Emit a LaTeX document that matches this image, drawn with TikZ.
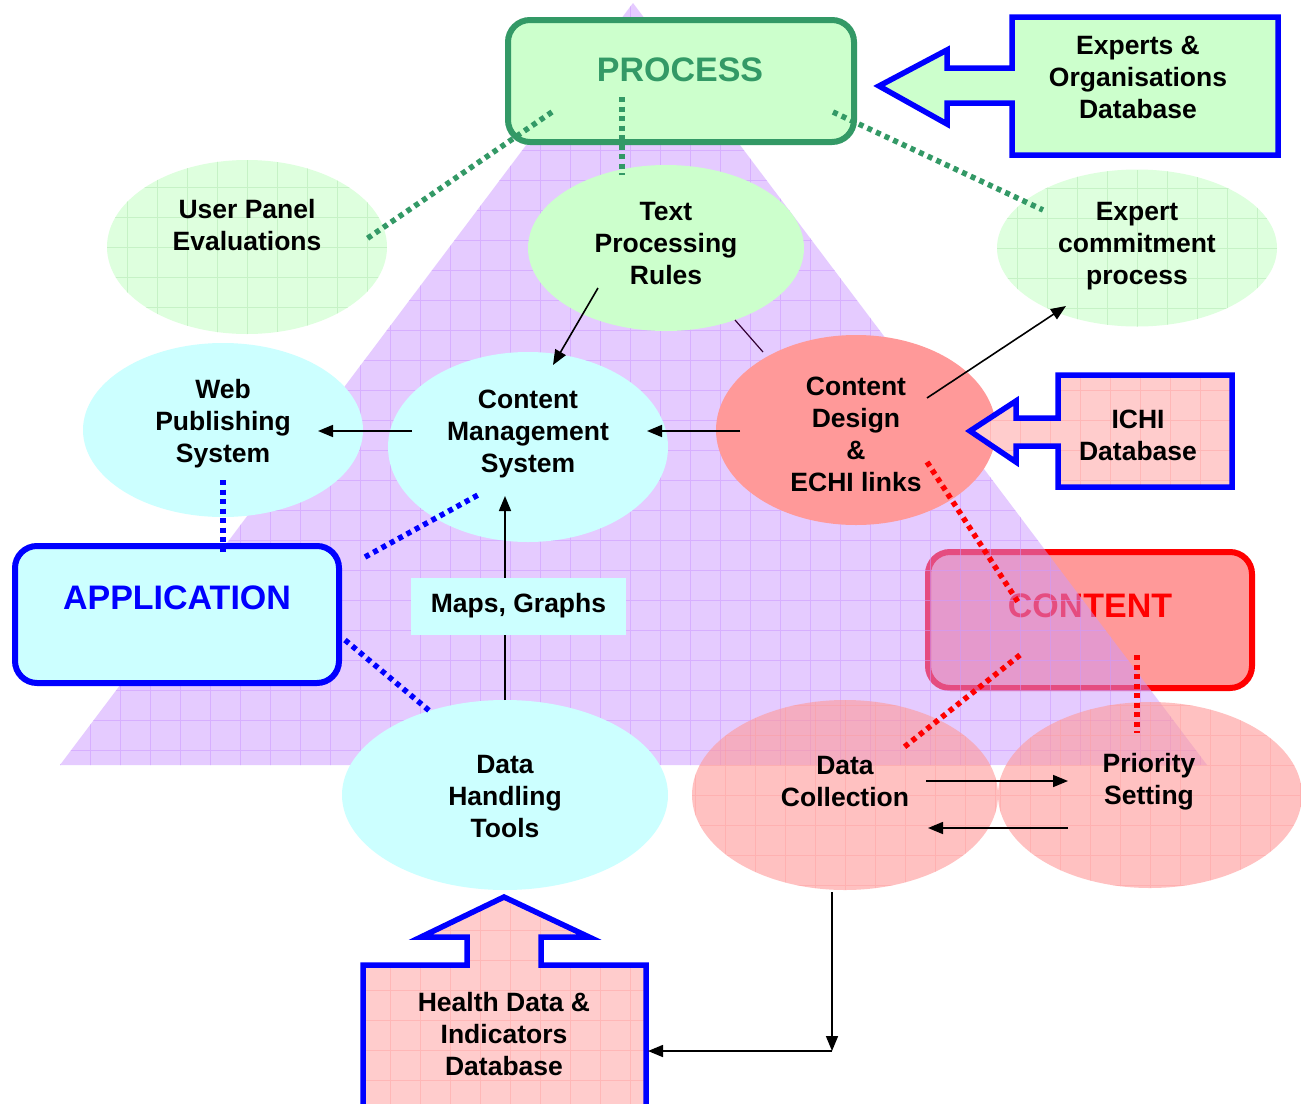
\documentclass[tikz,border=0pt]{standalone}
\usepackage{fontspec}
\setmainfont{Liberation Sans}
\usetikzlibrary{shapes.geometric,arrows.meta,calc}
\definecolor{pgreen}{HTML}{339966}
\definecolor{lgreen}{HTML}{CCFFCC}
\definecolor{vlgreen}{HTML}{DEFFDE}
\definecolor{vlgreenline}{HTML}{C6F2C6}
\definecolor{lcyan}{HTML}{CCFFFF}
\definecolor{salmon}{HTML}{FF9999}
\definecolor{lpink}{HTML}{FFCCCC}
\definecolor{tripurple}{HTML}{CC99FF}
\begin{document}
\begin{tikzpicture}[x=1pt,y=-1pt,
  txt/.style={font=\fontsize{26.5}{32}\selectfont\bfseries, align=center, inner sep=0pt},
  big/.style={font=\fontsize{34}{40}\selectfont\bfseries, inner sep=0pt},
  ell/.style={ellipse, inner sep=0pt},
  ggrid/.style={path picture={\draw[vlgreenline, line width=0.6pt, step=30pt] (path picture bounding box.south west) grid (path picture bounding box.north east);}},
  pgrid/.style={path picture={\draw[salmon, draw opacity=0.4, line width=0.8pt, step=30pt] (path picture bounding box.south west) grid (path picture bounding box.north east);}},
  arr/.style={-{Triangle[length=15pt,width=12pt]}, line width=1.6pt},
  gdot/.style={pgreen, line width=5.5pt, dash pattern=on 5pt off 4.5pt},
  bdot/.style={blue, line width=5.5pt, dash pattern=on 5pt off 4.5pt},
  rdot/.style={red, line width=5.5pt, dash pattern=on 5pt off 4.5pt},
  callout/.style={draw=blue, line width=5.5pt, miter limit=10},
  bigbox/.style={line width=6pt, rounded corners=22pt, minimum width=324pt}
]
\useasboundingbox (0,0) rectangle (1301,1103);
\fill[white] (0,0) rectangle (1301,1103);

% CONTENT box (below the triangle)
\node[bigbox, draw=red, fill=salmon, minimum height=136pt] (content) at (1090,620) {};
\node[big, red] (contentT) at (1090,606) {CONTENT};

% triangle with grid
\begin{scope}
  \fill[tripurple, fill opacity=0.5] (633,3) -- (1207,765) -- (60,765) -- cycle;
  \clip (633,3) -- (1207,765) -- (60,765) -- cycle;
  \draw[tripurple, draw opacity=0.55, line width=0.8pt, step=30pt] (0,0) grid (1301,1103);
\end{scope}

% PROCESS and APPLICATION boxes
\node[bigbox, draw=pgreen, fill=lgreen, minimum width=346pt, minimum height=122pt] (proc) at (681,81) {};
\node[big, pgreen] (procT) at (680,70) {PROCESS};
\node[bigbox, draw=blue, fill=lcyan, minimum height=137pt] (app) at (177,614.5) {};
\node[big, blue] (appT) at (177,598) {APPLICATION};

% ellipses
\node[ell, fill=vlgreen, ggrid, minimum width=280pt, minimum height=174pt] (upE) at (247,247) {};
\node[txt] (upT) at (247,225) {User Panel\\Evaluations};
\node[ell, fill=lgreen, minimum width=276pt, minimum height=166pt] (tprE) at (666,248) {};
\node[txt] (tprT) at (666,244) {Text\\Processing\\Rules};
\node[ell, fill=vlgreen, ggrid, minimum width=280pt, minimum height=157pt] (ecpE) at (1137,248) {};
\node[txt] (ecpT) at (1137,246) {Expert\\commitment\\process};
\node[ell, fill=lcyan, minimum width=280pt, minimum height=174pt] (wpsE) at (223,430) {};
\node[txt] (wpsT) at (223,424) {Web\\Publishing\\System};
\node[ell, fill=lcyan, minimum width=280pt, minimum height=190pt] (cmsE) at (528,447) {};
\node[txt] (cmsT) at (528,434) {Content\\Management\\System};
\node[ell, fill=salmon, minimum width=280pt, minimum height=190pt] (cdeE) at (856,430) {};
\node[txt] (cdeT) at (856,434) {Content\\Design\\\&\\ECHI links};
\node[ell, fill=lcyan, minimum width=326pt, minimum height=190pt] (dhtE) at (505,795) {};
\node[txt] (dhtT) at (505,797) {Data\\Handling\\Tools};
\node[ell, fill=salmon, fill opacity=0.6, pgrid, minimum width=306pt, minimum height=190pt] (dcE) at (845,795) {};
\node[ell, fill=salmon, fill opacity=0.6, pgrid, minimum width=304pt, minimum height=186pt] (psE) at (1150,795) {};
\node[txt] (dcT) at (845,782) {Data\\Collection};
\node[txt] (psT) at (1149,782) {Priority\\Setting};

% callout: Experts & Organisations Database
\fill[lgreen] (1012,17) -- (1278,17) -- (1278,155) -- (1012,155) -- (1012,103) -- (947,103) -- (947,124) -- (879,86) -- (947,50) -- (947,68) -- (1012,68) -- cycle;
\draw[callout] (1012,17) -- (1278,17) -- (1278,155) -- (1012,155) -- (1012,103) -- (947,103) -- (947,124) -- (879,86) -- (947,50) -- (947,68) -- (1012,68) -- cycle;
\node[txt] (expT) at (1138,77) {Experts \&\\Organisations\\Database};

% callout: ICHI Database
\begin{scope}
  \clip (1058,375) -- (1232,375) -- (1232,487) -- (1058,487) -- (1058,446) -- (1016,446) -- (1016,462) -- (970,431) -- (1016,401) -- (1016,418) -- (1058,418) -- cycle;
  \fill[lpink] (960,370) rectangle (1240,490);
  \draw[salmon, draw opacity=0.4, line width=0.8pt, step=30pt] (940,360) grid (1250,500);
\end{scope}
\draw[callout] (1058,375) -- (1232,375) -- (1232,487) -- (1058,487) -- (1058,446) -- (1016,446) -- (1016,462) -- (970,431) -- (1016,401) -- (1016,418) -- (1058,418) -- cycle;
\node[txt] (ichiT) at (1138,435) {ICHI\\Database};

% callout: Health Data & Indicators Database
\begin{scope}
  \clip (363,965) -- (467,965) -- (467,937) -- (421,937) -- (504,897) -- (589,937) -- (541,937) -- (541,965) -- (646,965) -- (646,1110) -- (363,1110) -- cycle;
  \fill[lpink] (350,890) rectangle (660,1110);
  \draw[salmon, draw opacity=0.4, line width=0.8pt, step=30pt] (340,880) grid (670,1120);
\end{scope}
\draw[callout] (363,965) -- (467,965) -- (467,937) -- (421,937) -- (504,897) -- (589,937) -- (541,937) -- (541,965) -- (646,965) -- (646,1110) -- (363,1110) -- cycle;
\node[txt] (hdT) at (504,1034) {Health Data \&\\Indicators\\Database};

% connector end points
\coordinate (tprA) at (598,288);  \coordinate (cmsA) at (553,365);
\coordinate (cmsL) at (412,431);  \coordinate (wpsR) at (318,431);
\coordinate (cdeL) at (740,431);  \coordinate (cmsR) at (647,431);
\coordinate (cdeA) at (927,398);  \coordinate (ecpA) at (1066,306);
\coordinate (tprB) at (735,320);  \coordinate (cdeB) at (763,352);
\coordinate (dhtTop) at (505,700); \coordinate (cmsB) at (505,496);
\coordinate (dcR) at (926,781);   \coordinate (psL) at (1068,781);
\coordinate (psL2) at (1068,828); \coordinate (dcR2) at (928,828);
\coordinate (dcBot) at (832,892); \coordinate (corner) at (832,1051);
\coordinate (hdE) at (648,1051);

% black arrows
\draw[arr] (tprA) -- (cmsA);
\draw[arr] (cmsL) -- (wpsR);
\draw[arr] (cdeL) -- (cmsR);
\draw[arr] (cdeA) -- (ecpA);
\draw[line width=1.2pt, black!60!violet] (tprB) -- (cdeB);
\draw[arr] (dhtTop) -- (cmsB);
\draw[arr] (dcR) -- (psL);
\draw[arr] (psL2) -- (dcR2);
\draw[arr] (dcBot) -- (corner);
\draw[arr] (corner) -- (hdE);

% Maps, Graphs label (covers the vertical arrow)
\node[txt, fill=lcyan, minimum width=215pt, minimum height=57pt] (maps) at (518.5,606) {Maps, Graphs};

% green dotted
\coordinate (pg1) at (552,112); \coordinate (upR) at (365,240);
\coordinate (pg2) at (622,97);  \coordinate (tprTop) at (622,175);
\coordinate (pg3) at (833,112); \coordinate (ecpL) at (1043,210);
\draw[gdot] (pg1) -- (upR);
\draw[gdot] (pg2) -- (tprTop);
\draw[gdot] (pg3) -- (ecpL);

% blue dotted
\coordinate (wpsB) at (223,480); \coordinate (appTop) at (223,556);
\coordinate (appR1) at (365,557); \coordinate (cmsBL) at (478,495);
\coordinate (appR2) at (345,640); \coordinate (dhtTL) at (432,713);
\draw[bdot] (wpsB) -- (appTop);
\draw[bdot] (appR1) -- (cmsBL);
\draw[bdot] (appR2) -- (dhtTL);

% red dotted
\coordinate (cdeBR) at (927,462); \coordinate (contC) at (1018,602);
\coordinate (cont1) at (1020,655); \coordinate (dcTR) at (903,748);
\coordinate (cont2) at (1137,655); \coordinate (psTop) at (1137,733);
\draw[rdot] (cdeBR) -- (contC);
\draw[rdot] (cont1) -- (dcTR);
\draw[rdot] (cont2) -- (psTop);
\end{tikzpicture}
\end{document}
